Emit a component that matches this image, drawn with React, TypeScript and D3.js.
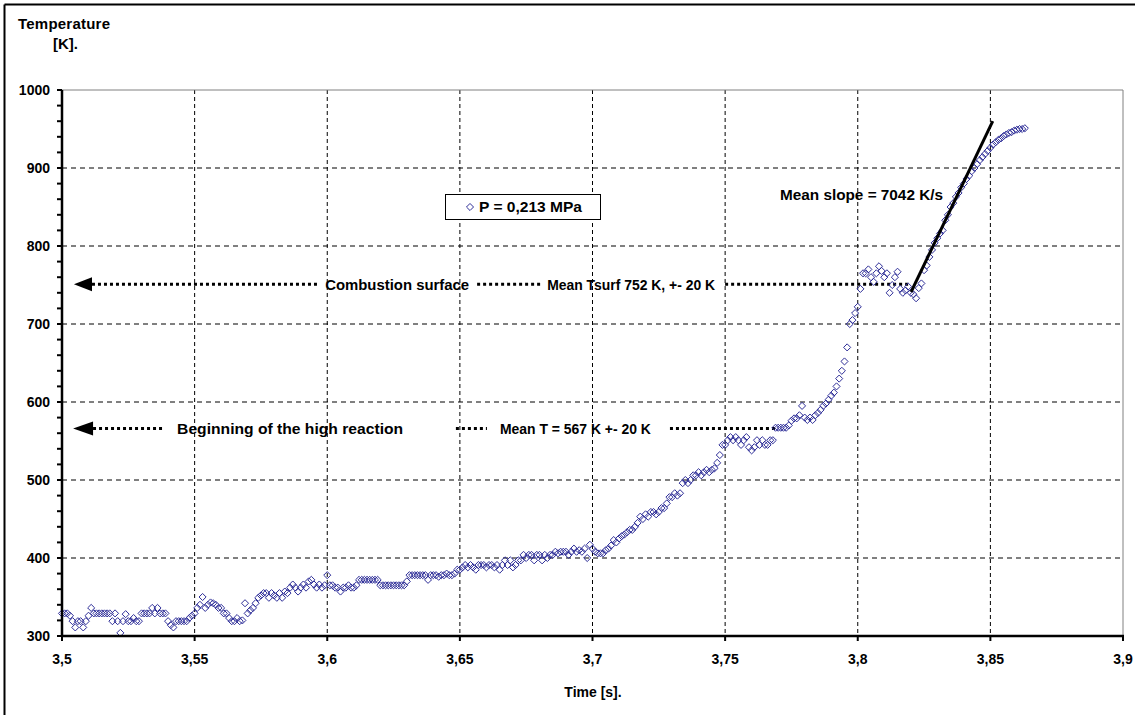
import React from "react";
import * as d3 from "d3";

// ---------- data ----------
const T_START = 3.5; // s, first sample
const T_STEP = 0.001; // s, sampling interval

// temperature samples [K], one per T_STEP starting at T_START
const temps: number[] = [
  329, 329, 329, 326, 319, 311, 319, 319, 311, 319,
  326, 336, 329, 329, 329, 329, 329, 329, 329, 319,
  329, 319, 304, 319, 328, 319, 319, 323, 319, 319,
  329, 329, 329, 329, 336, 329, 336, 329, 329, 329,
  319, 314, 311, 319, 319, 319, 319, 319, 323, 326,
  329, 336, 340, 350, 336, 340, 343, 342, 340, 336,
  336, 329, 329, 323, 319, 319, 323, 319, 320, 342,
  329, 333, 336, 342, 349, 352, 355, 355, 349, 355,
  352, 349, 355, 349, 357, 355, 362, 366, 362, 357,
  362, 366, 362, 370, 372, 366, 362, 366, 362, 365,
  378, 365, 365, 362, 362, 357, 362, 362, 365, 362,
  362, 365, 372, 372, 372, 372, 372, 372, 372, 372,
  365, 365, 365, 365, 365, 365, 365, 365, 365, 365,
  370, 378, 378, 378, 378, 378, 378, 378, 372, 378,
  378, 378, 376, 378, 378, 380, 378, 378, 380, 385,
  385, 388, 391, 388, 391, 388, 385, 391, 391, 391,
  388, 391, 391, 388, 391, 385, 391, 397, 391, 397,
  388, 391, 397, 397, 404, 400, 404, 404, 397, 404,
  404, 397, 404, 400, 404, 404, 408, 406, 408, 408,
  408, 404, 408, 412, 408, 410, 408, 412, 400, 417,
  412, 408, 406, 406, 406, 410, 412, 416, 423, 420,
  425, 428, 430, 433, 436, 436, 440, 445, 453, 450,
  456, 453, 459, 459, 456, 459, 464, 464, 470, 478,
  478, 483, 480, 483, 496, 500, 496, 500, 506, 506,
  510, 506, 510, 513, 510, 513, 515, 522, 532, 545,
  545, 551, 555, 551, 555, 551, 545, 551, 555, 542,
  538, 542, 551, 545, 551, 545, 545, 551, 551, 567,
  567, 567, 567, 567, 570, 576, 579, 579, 583, 595,
  580, 577, 580, 577, 583, 586, 590, 595, 598, 603,
  608, 612, 620, 630, 640, 652, 670, 700, 705, 714,
  722, 745, 765, 765, 770, 760, 754, 765, 774, 768,
  760, 765, 740, 750, 760, 767, 745, 740, 743, 748,
  740, 738, 733, 746, 752, 769, 775, 786, 795, 804,
  810, 816, 820, 833, 840, 850, 855, 863, 868, 875,
  880, 886, 890, 896, 900, 905, 910, 914, 918, 922,
  926, 930, 933, 936, 938, 941, 943, 945, 946, 948,
  949, 950, 950, 951,
];

const xTicks = [3.5, 3.55, 3.6, 3.65, 3.7, 3.75, 3.8, 3.85, 3.9];
const xTickLabels = ["3,5", "3,55", "3,6", "3,65", "3,7", "3,75", "3,8", "3,85", "3,9"];
const yTicks = [300, 400, 500, 600, 700, 800, 900, 1000];
const yTickLabels = ["300", "400", "500", "600", "700", "800", "900", "1000"];
const yMinorTicks = d3.range(300, 1001, 20);

const yTitle = ["Temperature", "[K]."];
const xTitle = "Time [s].";
const legendLabel = "P = 0,213 MPa";

// mean-slope fit line (start / end in data units)
const slopeLine = [
  { t: 3.8201, T: 741 },
  { t: 3.8509, T: 960 },
];
const slopeLabel = "Mean slope = 7042 K/s";

// horizontal dotted annotations: level [K], dotted segments [t0,t1], texts
const surfLevel = 751;
const surfArrowTip = 3.5045;
const surfArrowBase = 3.5113;
const surfSegments = [
  [3.5113, 3.5965],
  [3.6565, 3.6813],
  [3.75, 3.8197],
];
const surfTexts = [
  { t: 3.5992, label: "Combustion surface", w: 144, size: 15 },
  { t: 3.6829, label: "Mean Tsurf 752 K, +- 20 K", w: 168, size: 14 },
];

const reactLevel = 566;
const reactArrowTip = 3.5042;
const reactArrowBase = 3.5117;
const reactSegments = [
  [3.5117, 3.5381],
  [3.6485, 3.6602],
  [3.7292, 3.7688],
];
const reactTexts = [
  { t: 3.5434, label: "Beginning of the high reaction", w: 226, size: 15 },
  { t: 3.6651, label: "Mean T = 567 K +- 20 K", w: 151, size: 14 },
];

const FONT = "'Liberation Sans', Arial, Helvetica, sans-serif";
const MARK = "#2e2e98";

export default function App() {
  const W = 1135;
  const H = 715;
  const x = d3.scaleLinear().domain([3.5, 3.9]).range([62, 1123]);
  const y = d3.scaleLinear().domain([300, 1000]).range([636, 90]);
  const [x0, x1] = x.range();
  const [yb, yt] = y.range();

  const pts = temps.map((T, i) => ({ t: T_START + i * T_STEP, T }));
  const diamond = d3.symbol().type(d3.symbolDiamond2).size(32)();
  const slopePath = d3
    .line<{ t: number; T: number }>()
    .x((d) => x(d.t))
    .y((d) => y(d.T))(slopeLine);

  const arrowHead = (tip: number, base: number, level: number) => {
    const xt = x(tip);
    const xb = x(base);
    const yy = y(level);
    return `M${xt},${yy} L${xb},${yy - 7} L${xb},${yy + 7} Z`;
  };

  return (
    <svg
      width={W}
      height={H}
      style={{ position: "absolute", left: 0, top: 0, background: "#fff" }}
      fontFamily={FONT}
      fontWeight="bold"
    >
      <rect x={0} y={0} width={W} height={H} fill="#fff" />
      {/* outer frame */}
      <line x1={4.5} y1={4.5} x2={W} y2={4.5} stroke="#000" strokeWidth={2} />
      <line x1={4.5} y1={4.5} x2={4.5} y2={H} stroke="#000" strokeWidth={2} />

      {/* y title */}
      <text x={18} y={29} fontSize={15} textLength={92}>
        {yTitle[0]}
      </text>
      <text x={53} y={49} fontSize={15}>
        {yTitle[1]}
      </text>

      {/* grid */}
      {xTicks.slice(1, -1).map((v) => (
        <line
          key={"gx" + v}
          x1={x(v)}
          x2={x(v)}
          y1={yt}
          y2={yb}
          stroke="#000"
          strokeWidth={1}
          strokeDasharray="4,3"
        />
      ))}
      {yTicks.slice(1, -1).map((v) => (
        <line
          key={"gy" + v}
          x1={x0}
          x2={x1}
          y1={y(v)}
          y2={y(v)}
          stroke="#000"
          strokeWidth={1}
          strokeDasharray="5,4"
        />
      ))}
      {/* plot frame (top/right) */}
      <line x1={x0} x2={x1} y1={yt} y2={yt} stroke="#808080" strokeWidth={1} />
      <line x1={x1} x2={x1} y1={yt} y2={yb} stroke="#808080" strokeWidth={1} />

      {/* annotations: combustion surface */}
      <path d={arrowHead(surfArrowTip, surfArrowBase, surfLevel)} fill="#000" />
      {surfSegments.map(([a, b], i) => (
        <line
          key={"ss" + i}
          x1={x(a)}
          x2={x(b)}
          y1={y(surfLevel)}
          y2={y(surfLevel)}
          stroke="#000"
          strokeWidth={3}
          strokeDasharray="3,3"
        />
      ))}
      {surfTexts.map((d, i) => (
        <text
          key={"st" + i}
          x={x(d.t)}
          y={y(surfLevel) + 6}
          fontSize={d.size}
          textLength={d.w}
          lengthAdjust="spacingAndGlyphs"
        >
          {d.label}
        </text>
      ))}

      {/* annotations: beginning of high reaction */}
      <path d={arrowHead(reactArrowTip, reactArrowBase, reactLevel)} fill="#000" />
      {reactSegments.map(([a, b], i) => (
        <line
          key={"rs" + i}
          x1={x(a)}
          x2={x(b)}
          y1={y(reactLevel)}
          y2={y(reactLevel)}
          stroke="#000"
          strokeWidth={3}
          strokeDasharray="3,3"
        />
      ))}
      {reactTexts.map((d, i) => (
        <text
          key={"rt" + i}
          x={x(d.t)}
          y={y(reactLevel) + 5}
          fontSize={d.size}
          textLength={d.w}
          lengthAdjust="spacingAndGlyphs"
        >
          {d.label}
        </text>
      ))}

      {/* data points */}
      {pts.map((d, i) => (
        <path
          key={"p" + i}
          d={diamond!}
          transform={`translate(${x(d.t)},${y(d.T)})`}
          fill="none"
          stroke={MARK}
          strokeWidth={1}
        />
      ))}

      {/* slope line */}
      <path d={slopePath!} stroke="#000" strokeWidth={3} fill="none" />
      <text x={780} y={200} fontSize={15} textLength={163} lengthAdjust="spacingAndGlyphs">
        {slopeLabel}
      </text>

      {/* legend */}
      <rect x={445.5} y={194.5} width={155} height={25} fill="#fff" stroke="#000" strokeWidth={1} />
      <path d={diamond!} transform="translate(470,207)" fill="none" stroke={MARK} strokeWidth={1} />
      <text x={479} y={212} fontSize={15} textLength={103} lengthAdjust="spacingAndGlyphs">
        {legendLabel}
      </text>

      {/* axes */}
      <line x1={x0} x2={x1 + 1} y1={yb} y2={yb} stroke="#000" strokeWidth={2.5} />
      <line x1={x0} x2={x0} y1={yt} y2={yb + 1} stroke="#000" strokeWidth={2.5} />
      {yMinorTicks.map((v) => (
        <line key={"yt" + v} x1={x0 - 5} x2={x0} y1={y(v)} y2={y(v)} stroke="#000" strokeWidth={2} />
      ))}
      {xTicks.map((v) => (
        <line key={"xt" + v} x1={x(v)} x2={x(v)} y1={yb} y2={yb + 5} stroke="#000" strokeWidth={2} />
      ))}
      {yTicks.map((v, i) => (
        <text key={"yl" + v} x={50} y={y(v) + 5} fontSize={14} textAnchor="end">
          {yTickLabels[i]}
        </text>
      ))}
      {xTicks.map((v, i) => (
        <text key={"xl" + v} x={x(v)} y={664} fontSize={14} textAnchor="middle">
          {xTickLabels[i]}
        </text>
      ))}
      <text x={593} y={697} fontSize={14} textAnchor="middle">
        {xTitle}
      </text>
    </svg>
  );
}
